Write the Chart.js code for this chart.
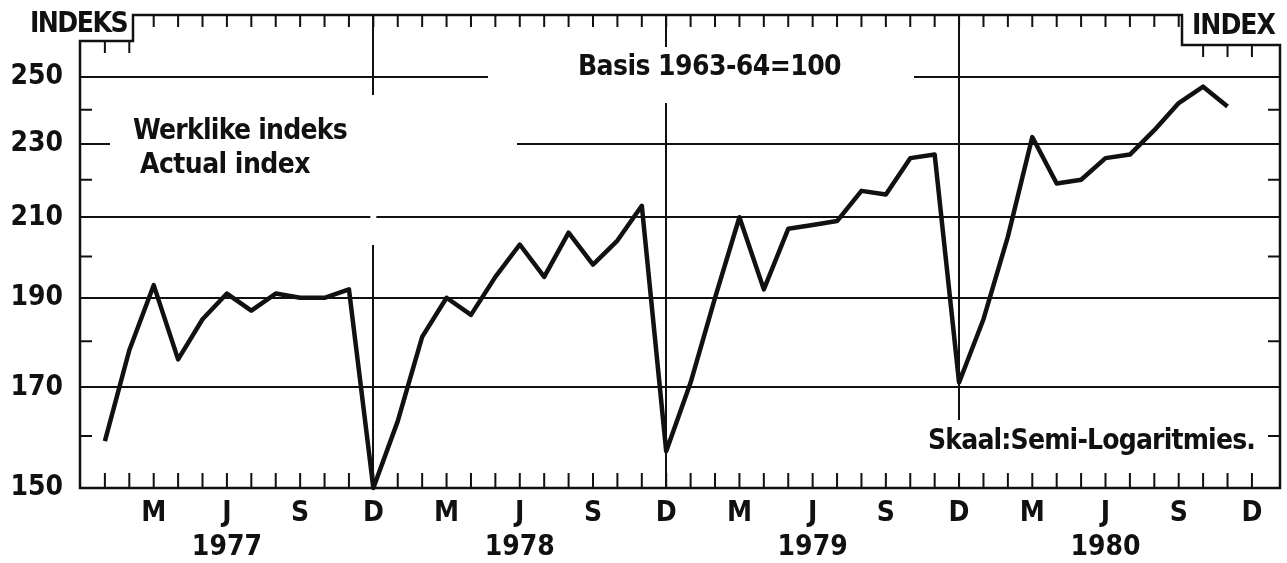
<!DOCTYPE html>
<html>
<head>
<meta charset="utf-8">
<script src="https://cdn.jsdelivr.net/npm/chart.js@4.4.1/dist/chart.umd.min.js"></script>
<style>
  html, body { margin: 0; padding: 0; background: #fff; }
</style>
</head>
<body>
<canvas id="indexChart" width="1287" height="563"></canvas>
<script>
// months Jan 1977 .. Dec 1980, actual index (basis 1963-64 = 100)
const years = ["1977", "1978", "1979", "1980"];
const monthNames = ["Jan", "Feb", "Mar", "Apr", "May", "Jun", "Jul", "Aug", "Sep", "Oct", "Nov", "Dec"];
const quarterLetters = { Mar: "M", Jun: "J", Sep: "S", Dec: "D" };

const index1977 = [159, 178, 193, 176, 185, 191, 187, 191, 190, 190, 192, 150];
const index1978 = [163, 181, 190, 186, 195, 203, 195, 206, 198, 204, 213, 157];
const index1979 = [171, 190, 210, 192, 207, 208, 209, 217, 216, 226, 227, 171];
const index1980 = [185, 205, 232, 219, 220, 226, 227, 234, 242, 247, 241, null];

const yTickValues = [150, 170, 190, 210, 230, 250];
const yMinorTicks = [160, 180, 200, 220, 240];
const yearBreaks = ["Dec 1977", "Dec 1978", "Dec 1979"];

const months = years.flatMap(y => monthNames.map(m => m + " " + y));
const values = [...index1977, ...index1978, ...index1979, ...index1980];

const FONT = "'DejaVu Sans Condensed', 'Liberation Sans Narrow', 'DejaVu Sans', sans-serif";
const INK = "#111";

// bits of grid that are blanked out behind the pasted-on labels
const hGaps = [
  { value: 250, from: 488, to: 914 },
  { value: 230, from: 110, to: 517 }
];
const vGaps = [
  { month: "Dec 1977", from: 95, to: 245 },
  { month: "Dec 1978", from: 47, to: 103 },
  { month: "Dec 1979", from: 420, to: 478 }
];

const notes = [
  { text: "INDEKS", x: 30, y: 25, w: 97 },
  { text: "INDEX", x: 1192, y: 27, w: 83 },
  { text: "Basis 1963-64=100", x: 578, y: 68, w: 263 },
  { text: "Werklike indeks", x: 133, y: 132, w: 214 },
  { text: "Actual index", x: 140, y: 166, w: 170 },
  { text: "Skaal:Semi-Logaritmies.", x: 928, y: 442, w: 327 }
];

const boxes = { leftEnd: 133, leftBottom: 41, rightStart: 1182, rightBottom: 45 };

const paper = {
  id: "paper",
  beforeDatasetsDraw(chart) {
    const { ctx, chartArea: a, scales: { x, y } } = chart;
    ctx.save();
    ctx.fillStyle = "#fff";
    hGaps.forEach(g => {
      const py = y.getPixelForValue(g.value);
      ctx.fillRect(g.from, py - 3, g.to - g.from, 6);
    });
    vGaps.forEach(g => {
      const px = x.getPixelForValue(months.indexOf(g.month));
      ctx.fillRect(px - 3, g.from, 6, g.to - g.from);
    });

    ctx.strokeStyle = INK;
    ctx.lineWidth = 2.5;
    ctx.lineCap = "square";
    ctx.beginPath();
    // frame with the two label notches at the top corners
    ctx.moveTo(a.left, a.bottom);
    ctx.lineTo(a.left, boxes.leftBottom);
    ctx.lineTo(boxes.leftEnd, boxes.leftBottom);
    ctx.lineTo(boxes.leftEnd, a.top);
    ctx.lineTo(boxes.rightStart, a.top);
    ctx.lineTo(boxes.rightStart, boxes.rightBottom);
    ctx.lineTo(a.right, boxes.rightBottom);
    ctx.lineTo(a.right, a.bottom);
    ctx.closePath();
    ctx.stroke();

    ctx.lineWidth = 2;
    ctx.lineCap = "butt";
    ctx.beginPath();
    months.forEach((m, i) => {
      const px = x.getPixelForValue(i);
      ctx.moveTo(px, a.bottom);
      ctx.lineTo(px, a.bottom - 15);
      const top = px < boxes.leftEnd ? boxes.leftBottom : px > boxes.rightStart ? boxes.rightBottom : a.top;
      ctx.moveTo(px, top);
      ctx.lineTo(px, top + 12);
    });
    yMinorTicks.forEach(v => {
      const py = y.getPixelForValue(v);
      ctx.moveTo(a.left, py);
      ctx.lineTo(a.left + 12, py);
      ctx.moveTo(a.right, py);
      ctx.lineTo(a.right - 12, py);
    });
    ctx.stroke();
    ctx.restore();
  },
  afterDraw(chart) {
    const { ctx } = chart;
    ctx.save();
    ctx.fillStyle = INK;
    ctx.font = "bold 28px " + FONT;
    ctx.textBaseline = "middle";
    ctx.textAlign = "left";
    notes.forEach(n => {
      ctx.letterSpacing = "0px";
      const w = ctx.measureText(n.text).width;
      ctx.letterSpacing = ((n.w - w) / n.text.length).toFixed(2) + "px";
      ctx.fillText(n.text, n.x, n.y);
    });
    ctx.restore();
  }
};

Chart.defaults.font.family = FONT;
Chart.defaults.font.weight = "bold";
Chart.defaults.color = INK;

new Chart(document.getElementById("indexChart"), {
  type: "line",
  data: {
    datasets: [{
      label: "Werklike indeks / Actual index",
      data: values.map((v, i) => ({ x: i, y: v })),
      borderColor: INK,
      borderWidth: 4.5,
      borderJoinStyle: "round",
      pointRadius: 0,
      tension: 0,
      spanGaps: false,
      clip: false
    }]
  },
  options: {
    responsive: false,
    animation: false,
    layout: { padding: { top: 15, right: 7, left: 0, bottom: 0 } },
    plugins: { legend: { display: false }, tooltip: { enabled: false } },
    scales: {
      x: {
        type: "linear",
        min: -1.02,
        max: 48.15,
        afterBuildTicks: s => { s.ticks = months.map((m, i) => ({ value: i })); },
        afterFit: s => { s.height = 75; s.paddingLeft = 0; s.paddingRight = 0; },
        border: { display: false },
        grid: {
          drawTicks: false,
          lineWidth: 2,
          color: c => (c.tick && yearBreaks.includes(months[c.tick.value])) ? INK : "rgba(0,0,0,0)"
        },
        ticks: {
          autoSkip: false,
          maxRotation: 0,
          padding: 9,
          font: { size: 28, weight: "bold", lineHeight: 1.2 },
          callback: value => {
            const [m, y] = months[value].split(" ");
            const l = quarterLetters[m];
            if (!l) return "";
            return m === "Jun" ? [l, y] : l;
          }
        }
      },
      y: {
        type: "logarithmic",
        min: 150,
        max: 270,
        afterBuildTicks: s => { s.ticks = yTickValues.map(v => ({ value: v })); },
        // keep the label padding from pushing the plot down
        afterFit: s => { s.width = 80; s.paddingTop = 0; s.paddingBottom = 0; },
        border: { display: false },
        grid: { drawTicks: false, lineWidth: 2, color: INK },
        ticks: {
          padding: 17,
          font: { size: 28, weight: "bold", lineHeight: 1 },
          callback: v => String(v)
        }
      }
    }
  },
  plugins: [paper]
});
</script>
</body>
</html>
